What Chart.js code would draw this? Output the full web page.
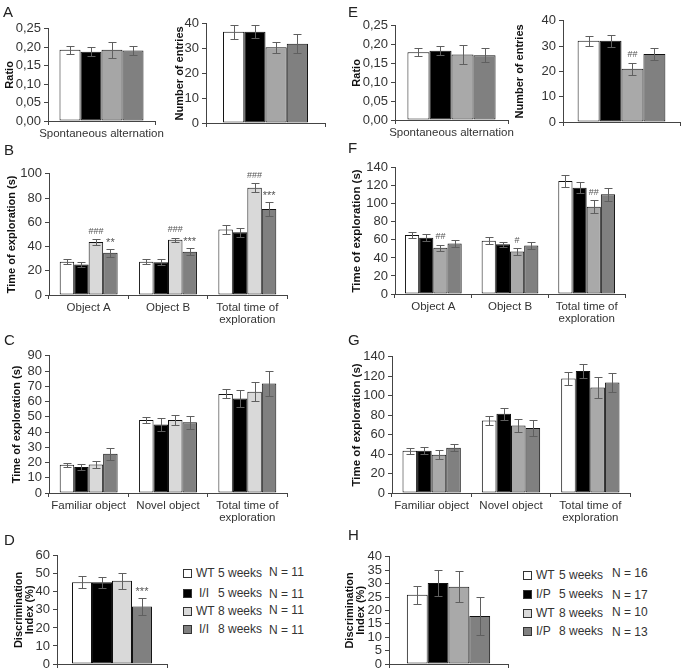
<!DOCTYPE html>
<html><head><meta charset="utf-8">
<script src="https://cdn.jsdelivr.net/npm/chart.js@4.4.0/dist/chart.umd.min.js"></script>
<style>
html,body{margin:0;padding:0;width:685px;height:670px;overflow:hidden;background:#fff;font-family:'Liberation Sans',Arial,sans-serif;}
#wrap{position:relative;width:685px;height:670px;overflow:hidden;}
canvas{position:absolute;}
.letter{position:absolute;font-size:15px;color:#222;line-height:17px;}
.lg{position:absolute;font-size:12px;color:#333;line-height:14px;white-space:nowrap;}
.sq{position:absolute;width:7px;height:7px;border:1px solid #333;}
</style></head><body><div id="wrap"></div>
<script>
// ---------- categories ----------
const altCategory = ['Spontaneous alternation'];
const blankCategory = [''];
const objectCategories = ['Object A', 'Object B', ['Total time of', 'exploration']];
const novelCategories = ['Familiar object', 'Novel object', ['Total time of', 'exploration']];

// ---------- series names ----------
const seriesII = ['WT 5 weeks', 'I/I 5 weeks', 'WT 8 weeks', 'I/I 8 weeks'];
const seriesIP = ['WT 5 weeks', 'I/P 5 weeks', 'WT 8 weeks', 'I/P 8 weeks'];
const nII = [11, 11, 11, 11];
const nIP = [16, 17, 10, 13];

// ---------- tick settings ----------
const ratioTicks = {max: 0.25, step: 0.05};
const entriesTicks = {max: 40, step: 10};
const bTicks = {max: 100, step: 20};
const cTicks = {max: 90, step: 10};
const dTicks = {max: 60, step: 10};
const fgTicks = {max: 140, step: 20};
const hTicks = {max: 40, step: 5};

// ---------- panel A (one value per group) ----------
const A_ratio = [0.193, 0.188, 0.193, 0.191];
const A_ratioErr = [0.011, 0.013, 0.022, 0.012];
const A_entries = [36.8, 36.8, 30.5, 32.0];
const A_entriesErr = [2.8, 2.7, 2.3, 3.9];

// ---------- panel B (Object A, Object B, Total) ----------
const B_WT5 = [27.4, 27.4, 54.0];   const B_WT5err = [2.0, 2.0, 4.0];
const B_II5 = [25.2, 27.0, 51.8];   const B_II5err = [2.0, 2.4, 3.8];
const B_WT8 = [43.8, 45.5, 88.5];   const B_WT8err = [2.2, 1.8, 3.5];
const B_II8 = [34.8, 35.6, 71.0];   const B_II8err = [3.3, 3.0, 6.0];
const B_marks = [{ds: 2, cat: 0, text: '###'}, {ds: 3, cat: 0, text: '**'},
                 {ds: 2, cat: 1, text: '###'}, {ds: 3, cat: 1, text: '***'},
                 {ds: 2, cat: 2, text: '###'}, {ds: 3, cat: 2, text: '***'}];

// ---------- panel C (Familiar, Novel, Total) ----------
const C_WT5 = [18.5, 47.9, 65.0];   const C_WT5err = [1.2, 1.8, 3.0];
const C_II5 = [17.0, 44.9, 62.0];   const C_II5err = [1.8, 4.0, 5.6];
const C_WT8 = [18.7, 47.9, 66.4];   const C_WT8err = [2.5, 3.5, 6.3];
const C_II8 = [25.7, 46.4, 71.9];   const C_II8err = [3.8, 4.4, 8.0];

// ---------- panel D ----------
const D_index = [45.3, 45.3, 46.2, 31.9];
const D_indexErr = [3.4, 3.0, 4.4, 4.8];
const D_marks = [{ds: 3, cat: 0, text: '***'}];

// ---------- panel E ----------
const E_ratio = [0.180, 0.184, 0.174, 0.172];
const E_ratioErr = [0.011, 0.012, 0.026, 0.018];
const E_entries = [32.1, 32.1, 21.0, 26.9];
const E_entriesErr = [2.0, 2.3, 2.5, 2.5];
const E_marks = [{ds: 2, cat: 0, text: '##'}];

// ---------- panel F ----------
const F_WT5 = [65.4, 59.2, 125.4];  const F_WT5err = [3.0, 4.0, 6.5];
const F_IP5 = [62.5, 55.2, 118.0];  const F_IP5err = [4.0, 3.0, 6.0];
const F_WT8 = [51.2, 47.1, 96.9];   const F_WT8err = [3.3, 3.6, 7.0];
const F_IP8 = [55.9, 53.7, 110.7];  const F_IP8err = [4.0, 4.0, 7.0];
const F_marks = [{ds: 2, cat: 0, text: '##'}, {ds: 2, cat: 1, text: '#'}, {ds: 2, cat: 2, text: '##'}];

// ---------- panel G ----------
const G_WT5 = [43.4, 74.6, 117.6];  const G_WT5err = [3.0, 5.0, 7.0];
const G_IP5 = [43.4, 81.4, 125.4];  const G_IP5err = [3.5, 6.0, 7.0];
const G_WT8 = [39.3, 69.5, 108.5];  const G_WT8err = [4.5, 7.0, 11.0];
const G_IP8 = [46.4, 66.8, 113.6];  const G_IP8err = [3.5, 8.0, 10.0];

// ---------- panel H ----------
const H_index = [25.8, 30.2, 28.8, 17.9];
const H_indexErr = [3.4, 4.8, 5.8, 7.0];

// ---------- colours ----------
const colorsA = ['#ffffff', '#000000', '#a6a6a6', '#808080'];
const colorsLight = ['#ffffff', '#000000', '#d9d9d9', '#808080'];
const colorsE = ['#ffffff', '#000000', '#a9a9a9', '#808080'];
const legendColors = ['#ffffff', '#000000', '#d9d9d9', '#808080'];

const FONT = "'Liberation Sans', Arial, sans-serif";
Chart.defaults.font.family = FONT;
const extras = {};

const errorBarPlugin = {
  id: 'errorBarsCustom',
  afterDatasetsDraw(chart) {
    const ex = extras[chart.canvas.id];
    if (!ex) return;
    const ctx = chart.ctx, y = chart.scales.y;
    ctx.save();
    ctx.strokeStyle = '#5f5f5f';
    ctx.lineWidth = 1;
    chart.data.datasets.forEach((ds, i) => {
      const meta = chart.getDatasetMeta(i);
      meta.data.forEach((bar, j) => {
        const v = ds.data[j], e = ex.errors[i][j];
        const x = Math.round(bar.x) + 0.5;
        const yt = Math.round(y.getPixelForValue(v + e)) + 0.5;
        const yb = Math.round(y.getPixelForValue(v - e)) + 0.5;
        ctx.beginPath();
        ctx.moveTo(x, yt); ctx.lineTo(x, yb);
        ctx.moveTo(x - 4, yt); ctx.lineTo(x + 4, yt);
        ctx.moveTo(x - 4, yb); ctx.lineTo(x + 4, yb);
        ctx.stroke();
      });
    });
    (ex.marks || []).forEach(m => {
      const bar = chart.getDatasetMeta(m.ds).data[m.cat];
      const v = chart.data.datasets[m.ds].data[m.cat] + ex.errors[m.ds][m.cat];
      const yt = y.getPixelForValue(v);
      const isHash = m.text.indexOf('#') >= 0;
      ctx.font = (isHash ? '9px ' : '11px ') + FONT;
      ctx.fillStyle = '#555';
      ctx.textAlign = 'center';
      ctx.textBaseline = 'middle';
      ctx.fillText(m.text, bar.x, yt - (isHash ? 8 : 6));
    });
    ctx.restore();
  }
};

function fmt(dec) {
  return v => dec ? Number(v).toFixed(dec).replace('.', ',') : String(Math.round(v));
}

function makeChart(c) {
  const wrap = document.getElementById('wrap');
  const titleSize = c.titleSize || 11;
  const titleLH = c.titleLH || 1.2;
  const lh = titleSize * titleLH;
  const canvasLeft = Math.round(c.titleX - lh / 2);
  const yW = c.plotLeft - canvasLeft;
  const padTop = 10, padRight = (c.padRight !== undefined ? c.padRight : 10);
  const w = Math.round(c.plotRight - canvasLeft + padRight);
  const h = Math.round(padTop + c.plotBottom - c.plotTop + c.xH);
  const cv = document.createElement('canvas');
  cv.id = c.id;
  cv.width = w; cv.height = h;
  cv.style.left = canvasLeft + 'px';
  cv.style.top = (c.plotTop - padTop) + 'px';
  cv.style.width = w + 'px'; cv.style.height = h + 'px';
  wrap.appendChild(cv);
  extras[c.id] = {errors: c.errors, marks: c.marks};
  const datasets = c.series.map((data, i) => ({
    label: c.names[i],
    data: data,
    backgroundColor: c.colors[i],
    borderColor: '#111',
    borderWidth: 1,
    borderSkipped: false,
    barPercentage: 1,
    categoryPercentage: c.catPct
  }));
  new Chart(cv, {
    type: 'bar',
    data: {labels: c.labels, datasets},
    plugins: [errorBarPlugin],
    options: {
      responsive: false,
      animation: false,
      devicePixelRatio: 1,
      layout: {padding: {top: padTop, right: padRight, left: 0, bottom: 0}},
      plugins: {legend: {display: false}, tooltip: {enabled: false}},
      scales: {
        x: {
          grid: {drawOnChartArea: false, drawTicks: true, tickLength: 4, color: '#444', offset: true},
          border: {display: true, color: '#444', width: 1},
          ticks: {font: {size: 11.5, lineHeight: 1.05}, color: '#333', maxRotation: 0, minRotation: 0, autoSkip: false, padding: 3},
          afterFit: s => { s.height = c.xH; }
        },
        y: {
          min: 0, max: c.ticks.max,
          grid: {drawOnChartArea: false, drawTicks: true, tickLength: 4, color: '#444'},
          border: {display: true, color: '#444', width: 1},
          ticks: {stepSize: c.ticks.step, autoSkip: false, font: {size: 13}, color: '#333', padding: 3, callback: fmt(c.dec || 0)},
          title: {display: true, text: c.title, color: '#111', padding: 0,
                  font: {size: titleSize, weight: 'bold', lineHeight: titleLH}},
          afterFit: s => { s.width = yW; }
        }
      }
    }
  });
}

function single(arr) { return arr.map(v => [v]); }

// Panel A
makeChart({id: 'aL', plotLeft: 48, plotRight: 155, plotTop: 28, plotBottom: 121, titleX: 10, padRight: 30,
  title: 'Ratio', ticks: ratioTicks, dec: 2, labels: altCategory, names: seriesII,
  series: single(A_ratio), errors: single(A_ratioErr), colors: colorsA, catPct: 0.785, xH: 28});
makeChart({id: 'aR', plotLeft: 206, plotRight: 325, plotTop: 23, plotBottom: 123, titleX: 180,
  title: 'Number of entries', ticks: entriesTicks, labels: blankCategory, names: seriesII,
  series: single(A_entries), errors: single(A_entriesErr), colors: colorsA, catPct: 0.714, xH: 12});
// Panel B
makeChart({id: 'b', plotLeft: 49, plotRight: 287, plotTop: 173, plotBottom: 295, titleX: 12,
  title: 'Time of exploration (s)', ticks: bTicks, labels: objectCategories, names: seriesII,
  series: [B_WT5, B_II5, B_WT8, B_II8], errors: [B_WT5err, B_II5err, B_WT8err, B_II8err],
  colors: colorsLight, catPct: 0.73, xH: 40, marks: B_marks});
// Panel C
makeChart({id: 'c', plotLeft: 49, plotRight: 287, plotTop: 355, plotBottom: 493, titleX: 17,
  title: 'Time of exploration (s)', ticks: cTicks, labels: novelCategories, names: seriesII,
  series: [C_WT5, C_II5, C_WT8, C_II8], errors: [C_WT5err, C_II5err, C_WT8err, C_II8err],
  colors: colorsLight, catPct: 0.73, xH: 40});
// Panel D
makeChart({id: 'd', plotLeft: 57, plotRight: 167, plotTop: 555, plotBottom: 664, titleX: 19, titleLH: 1.05,
  title: ['Discrimination', 'Index (%)'], ticks: dTicks, labels: blankCategory, names: seriesII,
  series: single(D_index), errors: single(D_indexErr), colors: colorsLight, catPct: 0.727, xH: 12, marks: D_marks});
// Panel E
makeChart({id: 'eL', plotLeft: 395, plotRight: 508, plotTop: 25, plotBottom: 120, titleX: 357, padRight: 30,
  title: 'Ratio', ticks: ratioTicks, dec: 2, labels: altCategory, names: seriesIP,
  series: single(E_ratio), errors: single(E_ratioErr), colors: colorsE, catPct: 0.78, xH: 28});
makeChart({id: 'eR', plotLeft: 563, plotRight: 680, plotTop: 20, plotBottom: 122, titleX: 520, padRight: 4,
  title: 'Number of entries', ticks: entriesTicks, labels: blankCategory, names: seriesIP,
  series: single(E_entries), errors: single(E_entriesErr), colors: colorsE, catPct: 0.75, xH: 12,
  marks: E_marks});
// Panel F
makeChart({id: 'f', plotLeft: 395, plotRight: 625, plotTop: 167, plotBottom: 294, titleX: 357, titleSize: 11.5,
  title: 'Time of exploration (s)', ticks: fgTicks, labels: objectCategories, names: seriesIP,
  series: [F_WT5, F_IP5, F_WT8, F_IP8], errors: [F_WT5err, F_IP5err, F_WT8err, F_IP8err],
  colors: colorsE, catPct: 0.74, xH: 40, marks: F_marks});
// Panel G
makeChart({id: 'g', plotLeft: 392, plotRight: 630, plotTop: 356, plotBottom: 493, titleX: 357, titleSize: 11.5,
  title: 'Time of exploration (s)', ticks: fgTicks, labels: novelCategories, names: seriesIP,
  series: [G_WT5, G_IP5, G_WT8, G_IP8], errors: [G_WT5err, G_IP5err, G_WT8err, G_IP8err],
  colors: colorsE, catPct: 0.735, xH: 40});
// Panel H
makeChart({id: 'h', plotLeft: 389, plotRight: 508, plotTop: 556, plotBottom: 664, titleX: 350, titleLH: 1.05,
  title: ['Discrimination', 'Index (%)'], ticks: hTicks, labels: blankCategory, names: seriesIP,
  series: single(H_index), errors: single(H_indexErr), colors: colorsE, catPct: 0.7, xH: 12});

// ---------- panel letters ----------
const letters = [['A', 3, 3], ['B', 4, 141], ['C', 4, 331], ['D', 4, 531],
                 ['E', 348, 3], ['F', 348, 139], ['G', 348, 331], ['H', 348, 526]];
const wrapEl = document.getElementById('wrap');
letters.forEach(([t, x, y]) => {
  const d = document.createElement('div');
  d.className = 'letter'; d.textContent = t;
  d.style.left = x + 'px'; d.style.top = y + 'px';
  wrapEl.appendChild(d);
});

// ---------- legends ----------
function legend(names, ns, sqX, rowY, nY, prefX, weekX, nX) {
  names.forEach((name, i) => {
    const sq = document.createElement('div');
    sq.className = 'sq';
    sq.style.left = sqX + 'px'; sq.style.top = (rowY[i] - 4.5) + 'px';
    sq.style.background = legendColors[i];
    wrapEl.appendChild(sq);
    const parts = name.split(' ');
    const p = document.createElement('div');
    p.className = 'lg'; p.textContent = parts[0];
    p.style.left = prefX[i] + 'px'; p.style.top = (rowY[i] - 7) + 'px';
    wrapEl.appendChild(p);
    const wk = document.createElement('div');
    wk.className = 'lg'; wk.textContent = parts.slice(1).join(' ');
    wk.style.left = weekX + 'px'; wk.style.top = (rowY[i] - 7) + 'px';
    wrapEl.appendChild(wk);
    const n = document.createElement('div');
    n.className = 'lg'; n.textContent = 'N = ' + ns[i];
    n.style.left = nX + 'px'; n.style.top = (nY[i] - 7) + 'px';
    wrapEl.appendChild(n);
  });
}
legend(seriesII, nII, 183, [573, 593, 611, 629], [572, 594, 610, 630], [196, 199, 196, 199], 218, 269);
legend(seriesIP, nIP, 523, [575, 594, 613, 631], [573, 595, 612, 632], [536, 536, 536, 536], 559, 612);
</script>
</body></html>
